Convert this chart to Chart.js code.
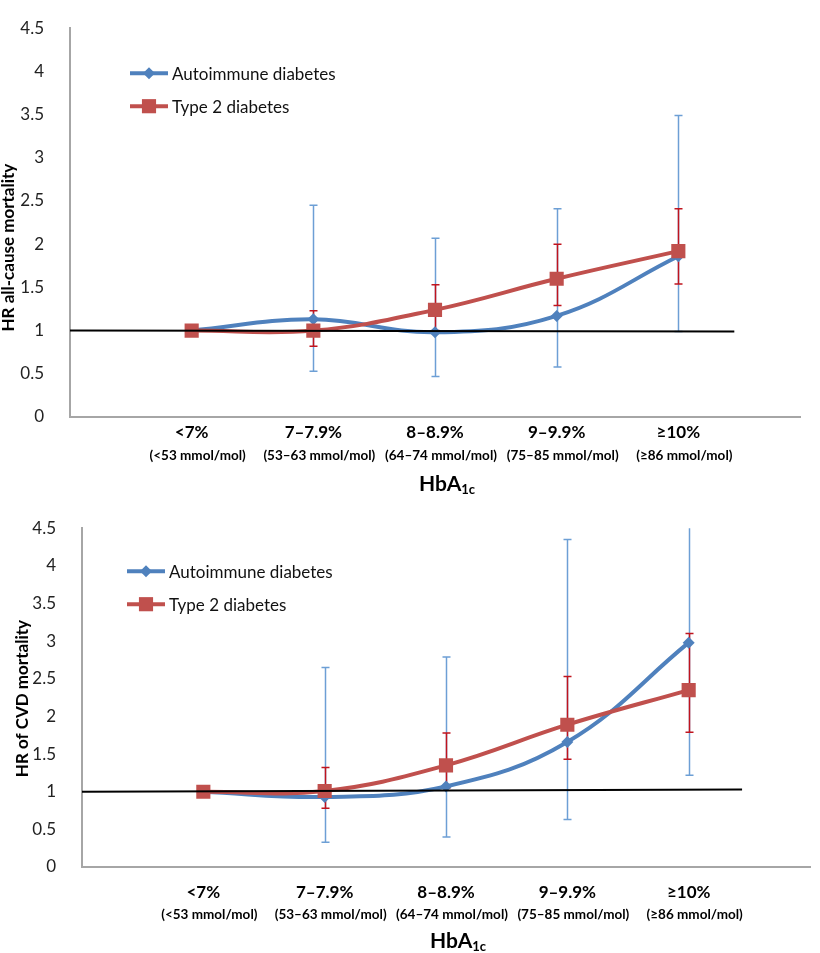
<!DOCTYPE html>
<html>
<head>
<meta charset="utf-8">
<script src="https://cdn.jsdelivr.net/npm/chart.js@4.4.1/dist/chart.umd.min.js"></script>
<style>
  body { margin: 0; background: #fff; }
  .box { position: relative; width: 820px; }
</style>
</head>
<body>
<div class="box" style="height:500px"><canvas id="allCause"></canvas></div>
<div class="box" style="height:453px"><canvas id="cvd"></canvas></div>
<script>
const categories = ["<7%", "7–7.9%", "8–8.9%", "9–9.9%", "≥10%"];
const mmolLabels = ["(<53 mmol/mol)", "(53–63 mmol/mol)", "(64–74 mmol/mol)", "(75–85 mmol/mol)", "(≥86 mmol/mol)"];
const yTickValues = [0, 0.5, 1, 1.5, 2, 2.5, 3, 3.5, 4, 4.5];
const seriesNames = ["Autoimmune diabetes", "Type 2 diabetes"];

// all-cause mortality
const allAuto = [1, 1.13, 0.98, 1.17, 1.86];
const allAutoLow = [null, 0.53, 0.47, 0.58, 0.99];
const allAutoHigh = [null, 2.45, 2.07, 2.41, 3.49];
const allT2 = [1, 1.0, 1.24, 1.6, 1.92];
const allT2Low = [null, 0.82, 1.0, 1.29, 1.54];
const allT2High = [null, 1.23, 1.53, 2.0, 2.41];
const allRef = [[0, 1.0], [5.46, 0.99]];

// CVD mortality
const cvdAuto = [1, 0.93, 1.07, 1.66, 2.98];
const cvdAutoLow = [null, 0.33, 0.40, 0.63, 1.22];
const cvdAutoHigh = [null, 2.65, 2.79, 4.35, 4.7];
const cvdT2 = [1, 1.01, 1.35, 1.89, 2.35];
const cvdT2Low = [null, 0.78, 1.05, 1.43, 1.79];
const cvdT2High = [null, 1.32, 1.78, 2.53, 3.10];
const cvdRef = [[0, 1.0], [5.44, 1.03]];

const BLUE = "#4f81bd", RED = "#c0504d";
const FONT = "Lato, 'Noto Sans', sans-serif";

// error bars, category labels, axis titles and legend
const extras = {
  id: "extras",
  beforeDatasetsDraw(chart) {
    const ctx = chart.ctx, a = chart.chartArea;
    const x = chart.scales.x, y = chart.scales.y;
    ctx.save();
    ctx.beginPath();
    ctx.rect(a.left, a.top, a.right - a.left, a.bottom - a.top);
    ctx.clip();
    // blue bars first, red on top
    chart.data.datasets.slice().reverse().forEach(ds => {
      if (!ds.errLow) return;
      ctx.strokeStyle = ds.errColor;
      ctx.lineWidth = 1.5;
      ds.data.forEach((p, j) => {
        const lo = ds.errLow[j], hi = ds.errHigh[j];
        if (lo == null) return;
        const px = Math.round(x.getPixelForValue(p.x)) + 0.5;
        const pl = y.getPixelForValue(lo), ph = y.getPixelForValue(hi);
        ctx.beginPath();
        ctx.moveTo(px, pl); ctx.lineTo(px, ph);
        ctx.moveTo(px - 4, pl); ctx.lineTo(px + 4, pl);
        ctx.moveTo(px - 4, ph); ctx.lineTo(px + 4, ph);
        ctx.stroke();
      });
    });
    ctx.restore();
  },
  afterDraw(chart, args, o) {
    const ctx = chart.ctx, a = chart.chartArea, x = chart.scales.x;
    ctx.save();
    ctx.fillStyle = "#000";
    ctx.textAlign = "center";
    ctx.textBaseline = "middle";
    categories.forEach((c, j) => {
      const px = x.getPixelForValue(j + 1);
      ctx.font = "bold 17px " + FONT;
      ctx.fillText(c, px, a.bottom + o.line1);
      ctx.font = "bold 13.5px " + FONT;
      ctx.fillText(mmolLabels[j], px + 6, a.bottom + o.line2);
    });

    // HbA1c title with subscript
    ctx.textAlign = "left";
    ctx.font = "bold 21px " + FONT;
    const w1 = ctx.measureText("HbA").width;
    ctx.font = "bold 13px " + FONT;
    const w2 = ctx.measureText("1c").width;
    const cx = (a.left + a.right) / 2 + 12, ty = a.bottom + o.titleY;
    ctx.font = "bold 21px " + FONT;
    ctx.fillText("HbA", cx - (w1 + w2) / 2, ty);
    ctx.font = "bold 13px " + FONT;
    ctx.fillText("1c", cx - (w1 + w2) / 2 + w1, ty + 6);

    // y axis title
    ctx.save();
    ctx.translate(o.yTitleX, (a.top + a.bottom) / 2 + o.yTitleShift);
    ctx.rotate(-Math.PI / 2);
    ctx.textAlign = "center";
    ctx.font = "bold 17px " + FONT;
    ctx.fillText(o.yTitle, 0, 0);
    ctx.restore();

    // legend
    let ly = a.top + o.legendY;
    const lx = a.left + o.legendX;
    chart.data.datasets.filter(d => d.inLegend).reverse().forEach(ds => {
      ctx.strokeStyle = ds.borderColor;
      ctx.fillStyle = ds.borderColor;
      ctx.lineWidth = 4;
      ctx.beginPath();
      ctx.moveTo(lx, ly); ctx.lineTo(lx + 38, ly);
      ctx.stroke();
      Chart.helpers.drawPoint(ctx, { pointStyle: ds.pointStyle, radius: ds.pointRadius, rotation: 0, borderWidth: 0 }, lx + 19, ly);
      ctx.fillStyle = "#111";
      ctx.font = "17px " + FONT;
      ctx.textAlign = "left";
      ctx.fillText(ds.label, lx + 42, ly + 1);
      ly += 33;
    });
    ctx.restore();
  }
};

function series(label, vals, lo, hi, color, errColor, style, radius) {
  return {
    label: label,
    data: vals.map((v, j) => ({ x: j + 1, y: v })),
    errLow: lo, errHigh: hi, errColor: errColor,
    borderColor: color, backgroundColor: color,
    borderWidth: 4, tension: 0.4,
    pointStyle: style, pointRadius: radius, pointHoverRadius: radius,
    pointBorderWidth: 0,
    inLegend: true
  };
}

function makeChart(id, ref, auto, autoLo, autoHi, t2, t2Lo, t2Hi, layout, extra) {
  return new Chart(document.getElementById(id), {
    type: "line",
    data: {
      datasets: [
        {
          data: ref.map(p => ({ x: p[0], y: p[1] })),
          borderColor: "#000", borderWidth: 2, pointRadius: 0, tension: 0
        },
        series(seriesNames[1], t2, t2Lo, t2Hi, RED, "#c0141e", "rect", 10),
        series(seriesNames[0], auto, autoLo, autoHi, BLUE, "#6d9fd5", "rectRot", 6)
      ]
    },
    options: {
      responsive: true,
      maintainAspectRatio: false,
      animation: false,
      layout: { padding: { top: layout.top, right: layout.right, left: 0, bottom: 0 } },
      plugins: { legend: { display: false }, tooltip: { enabled: false }, extras: extra },
      scales: {
        x: {
          type: "linear", min: 0, max: 6,
          grid: { display: false },
          border: { color: "#a6a6a6", width: 2 },
          ticks: { display: false },
          afterFit: s => { s.height = layout.xh; }
        },
        y: {
          min: 0, max: 4.5,
          grid: { display: false },
          border: { color: "#a6a6a6", width: 2 },
          afterBuildTicks: s => { s.ticks = yTickValues.map(v => ({ value: v })); },
          ticks: {
            color: "#222", font: { family: FONT, size: 17 }, padding: 18,
            callback: v => String(v)
          },
          afterFit: s => { s.width = layout.yw; }
        }
      }
    },
    plugins: [extras]
  });
}

makeChart("allCause", allRef, allAuto, allAutoLow, allAutoHigh, allT2, allT2Low, allT2High,
  { top: 8, right: 20, xh: 83, yw: 70 },
  { line1: 16, line2: 39, titleY: 67, yTitle: "HR all-cause mortality", yTitleX: 9, yTitleShift: 25, legendX: 60, legendY: 45 });

makeChart("cvd", cvdRef, cvdAuto, cvdAutoLow, cvdAutoHigh, cvdT2, cvdT2Low, cvdT2High,
  { top: 20, right: 3, xh: 86, yw: 82 },
  { line1: 26, line2: 48, titleY: 74, yTitle: "HR of CVD mortality", yTitleX: 23, yTitleShift: 1, legendX: 45, legendY: 43 });
</script>
</body>
</html>
